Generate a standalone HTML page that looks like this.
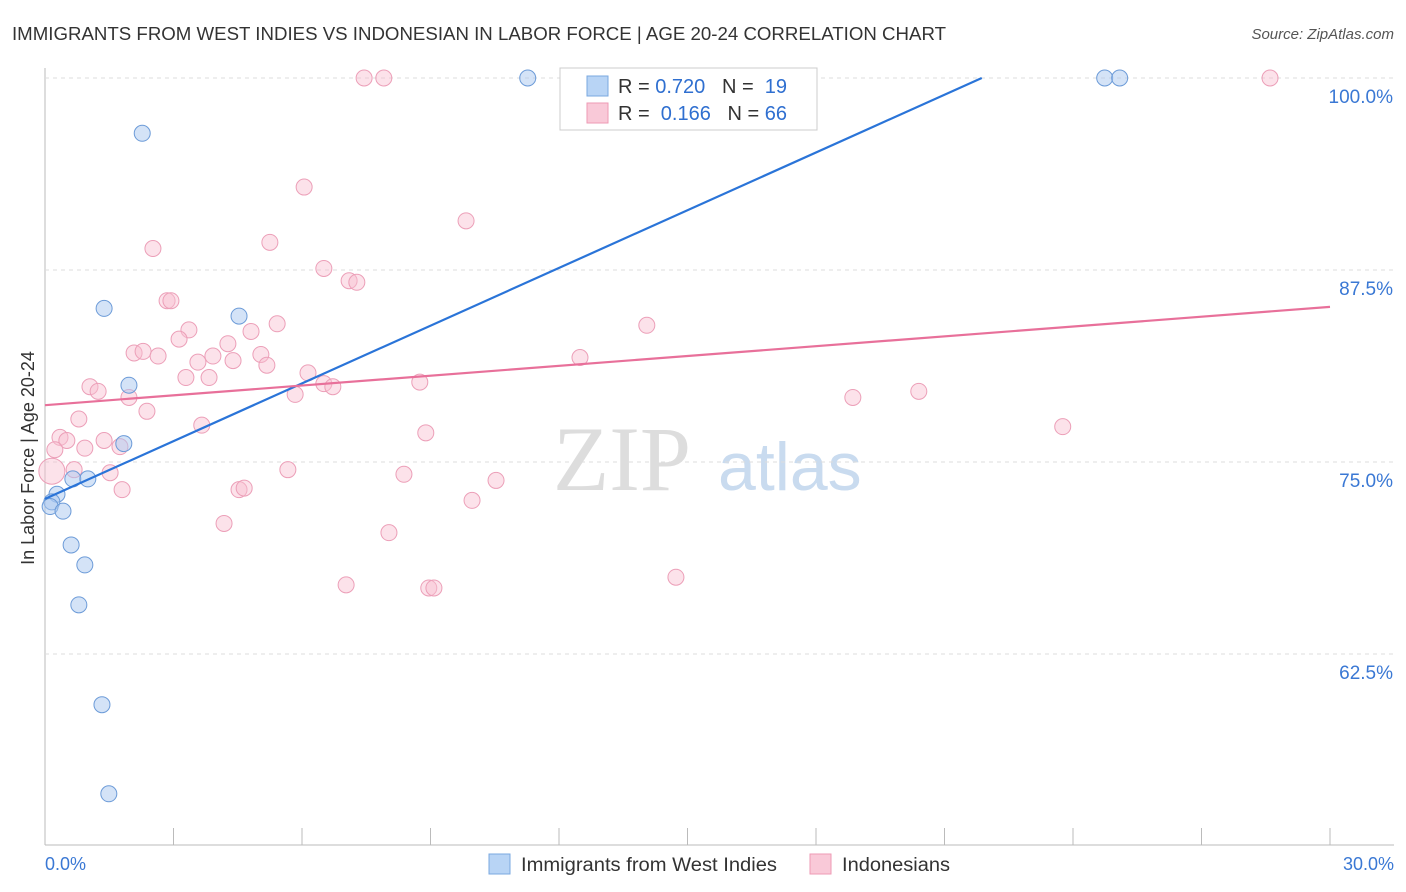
<!DOCTYPE html>
<html><head><meta charset="utf-8"><style>
body{margin:0;background:#fff;font-family:"Liberation Sans",sans-serif;}
svg{display:block}
</style></head><body>
<svg id="c" width="1406" height="892">
<text x="12" y="40" font-size="18" fill="#333" textLength="934" lengthAdjust="spacingAndGlyphs">IMMIGRANTS FROM WEST INDIES VS INDONESIAN IN LABOR FORCE | AGE 20-24 CORRELATION CHART</text>
<text x="1394" y="39" font-size="15" fill="#555" font-style="italic" text-anchor="end">Source: ZipAtlas.com</text>
<text x="34" y="458" font-size="18" fill="#333" transform="rotate(-90 34 458)" text-anchor="middle">In Labor Force | Age 20-24</text>
<text x="553" y="490" font-size="92" fill="#ddd" font-family="Liberation Serif">ZIP</text>
<text x="718" y="490" font-size="68" fill="#c9dbef">atlas</text>
<g id="grid"></g><g id="marks"></g>
<rect x="560" y="68" width="257" height="62" fill="#fff" stroke="#ccc"/>
<rect x="587" y="76" width="21" height="20" fill="#b8d4f5" stroke="#7aa8e0"/>
<rect x="587" y="103" width="21" height="20" fill="#f9c9d8" stroke="#ee9ab4"/>
<text x="618" y="93" font-size="20" fill="#333">R = <tspan fill="#2f6fd0">0.720</tspan>&#160;&#160;&#160;N = &#160;<tspan fill="#2f6fd0">19</tspan></text>
<text x="618" y="120" font-size="20" fill="#333">R = &#160;<tspan fill="#2f6fd0">0.166</tspan>&#160;&#160;&#160;N = <tspan fill="#2f6fd0">66</tspan></text>
<text x="45" y="870" font-size="18" fill="#3a78d4">0.0%</text>
<text x="1394" y="870" font-size="18" fill="#3a78d4" text-anchor="end">30.0%</text>
<rect x="489" y="854" width="21" height="20" fill="#b8d4f5" stroke="#7aa8e0"/>
<text x="521" y="871" font-size="19" fill="#333" textLength="256" lengthAdjust="spacingAndGlyphs">Immigrants from West Indies</text>
<rect x="810" y="854" width="21" height="20" fill="#f9c9d8" stroke="#ee9ab4"/>
<text x="842" y="871" font-size="19" fill="#333" textLength="108" lengthAdjust="spacingAndGlyphs">Indonesians</text>
</svg>
<script>
const yTicks=[100,87.5,75,62.5];
const yTickLabels=["100.0%","87.5%","75.0%","62.5%"];
const blueX=[2.27,1.38,4.53,1.96,1.84,0.65,1.0,0.28,0.16,0.12,0.42,0.61,0.93,0.79,1.33,1.49,11.27,24.74,25.09];
const blueY=[96.4,85.0,84.5,80.0,76.2,73.9,73.9,72.9,72.4,72.1,71.8,69.6,68.3,65.7,59.2,53.4,100,100,100];
const pinkX=[7.45,7.91,28.6,6.05,9.83,2.52,5.25,6.51,7.1,7.28,2.85,2.94,5.42,3.36,4.81,14.05,3.13,4.27,2.08,2.29,2.64,3.92,5.04,3.57,4.39,5.18,12.49,3.29,3.83,6.14,6.51,6.72,8.75,1.05,1.24,1.96,5.84,18.86,20.4,2.38,0.79,3.66,23.76,8.89,0.35,0.51,1.38,1.75,0.93,0.23,1.52,0.68,5.67,8.38,10.53,1.8,4.53,4.65,9.97,4.18,8.03,7.03,8.96,9.08,14.73,0.16];
const pinkY=[100,100,100,92.9,90.7,88.9,89.3,87.6,86.8,86.7,85.5,85.5,84.0,83.6,83.5,83.9,83.0,82.7,82.1,82.2,81.9,81.9,82.0,81.5,81.6,81.3,81.8,80.5,80.5,80.8,80.1,79.9,80.2,79.9,79.6,79.2,79.4,79.2,79.6,78.3,77.8,77.4,77.3,76.9,76.6,76.4,76.4,76.0,75.9,75.8,74.3,74.5,74.5,74.2,73.8,73.2,73.2,73.3,72.5,71.0,70.4,67.0,66.8,66.8,67.5,74.4];
const blueTrendX=[0,21.87];const blueTrendY=[72.6,100];
const pinkTrendX=[0,30];const pinkTrendY=[78.7,85.1];
const X=v=>45+v/30*1285, Y=v=>78+(100-v)*15.36;
const NS="http://www.w3.org/2000/svg";
const grid=document.getElementById('grid'), marks=document.getElementById('marks');
function mk(p,tag,a){const e=document.createElementNS(NS,tag);for(const k in a)e.setAttribute(k,a[k]);p.appendChild(e);return e;}
let ax=mk(grid,'line',{x1:45,y1:68,x2:45,y2:845,stroke:'#bbb'});


let bx=mk(grid,'line',{x1:45,y1:845,x2:1394,y2:845,stroke:'#bbb'});


for(let i=0;i<=10;i++){const t=mk(grid,'line',{x1:X(i*3),y1:828,x2:X(i*3),y2:845,stroke:'#bbb'});

}
yTicks.forEach((v,i)=>{const g=mk(grid,'line',{x1:45,y1:Y(v),x2:1394,y2:Y(v),stroke:'#ddd','stroke-dasharray':'4 4'});


const t=mk(grid,'text',{x:1393,y:Y(v)+25,'font-size':19,fill:'#3a78d4','text-anchor':'end'});t.textContent=yTickLabels[i];

});
pinkX.forEach((x,i)=>{const c=mk(marks,'circle',{cx:X(x),cy:Y(pinkY[i]),r:i==pinkX.length-1?13:8,fill:'rgba(248,190,208,0.45)',stroke:'#ec9fb8','stroke-width':1});

});
blueX.forEach((x,i)=>{const c=mk(marks,'circle',{cx:X(x),cy:Y(blueY[i]),r:8,fill:'rgba(170,200,240,0.5)',stroke:'#6c9bd8','stroke-width':1});

});
let bl=mk(marks,'line',{x1:X(blueTrendX[0]),y1:Y(blueTrendY[0]),x2:X(blueTrendX[1]),y2:Y(blueTrendY[1]),stroke:'#2a74d8','stroke-width':2.2});


let pl=mk(marks,'line',{x1:X(pinkTrendX[0]),y1:Y(pinkTrendY[0]),x2:X(pinkTrendX[1]),y2:Y(pinkTrendY[1]),stroke:'#e8709a','stroke-width':2.2});


</script>
</body></html>
